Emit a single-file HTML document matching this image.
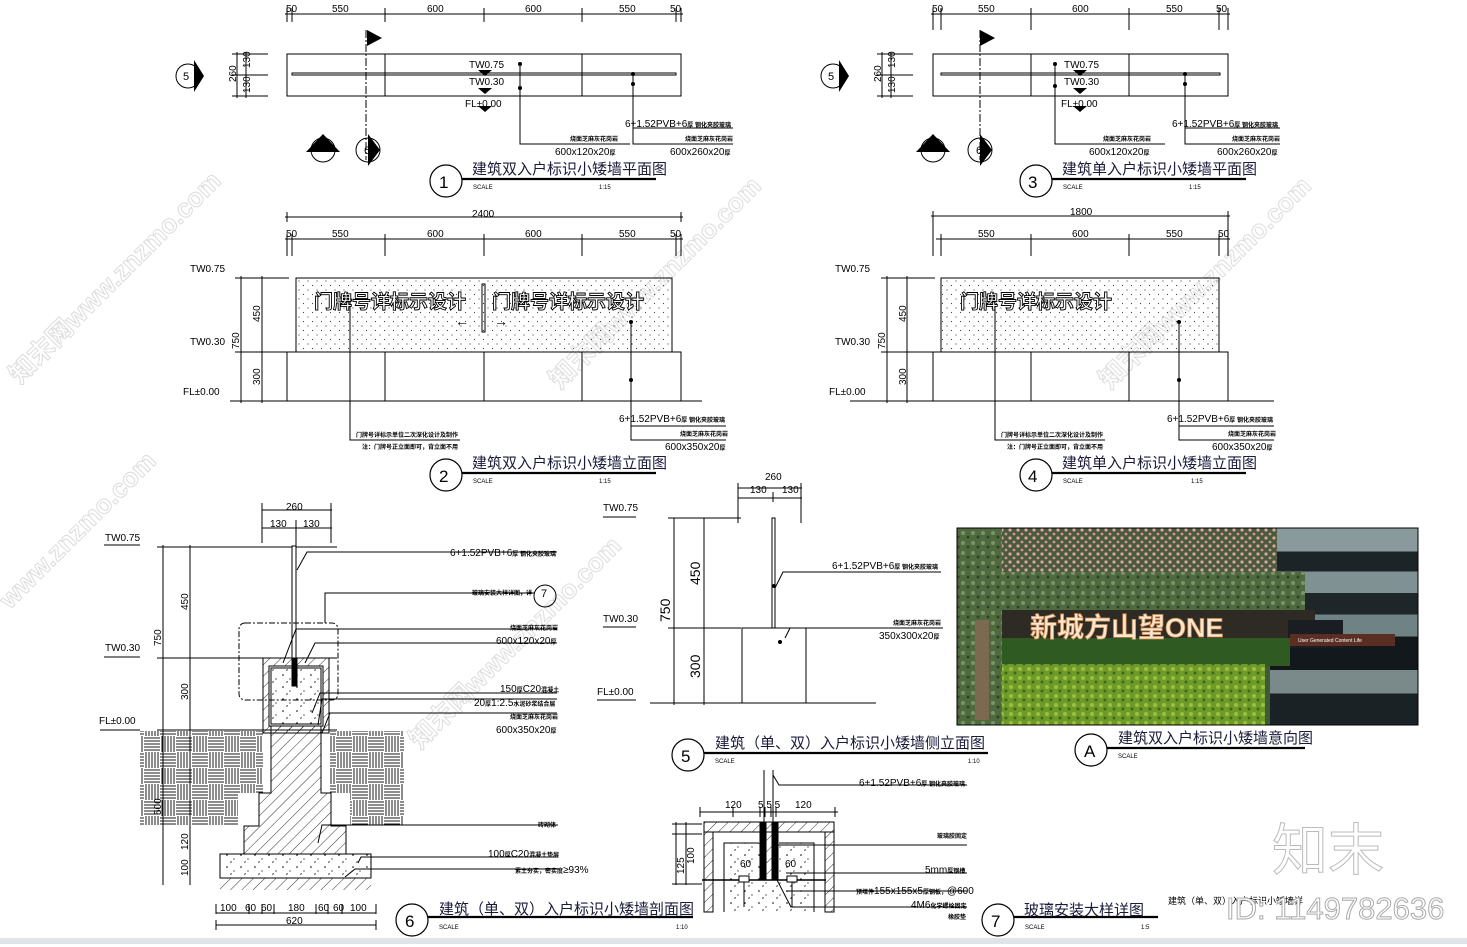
<!DOCTYPE html>
<html><head><meta charset="utf-8"><style>
html,body{margin:0;padding:0;background:#fff;}
svg{display:block;font-family:"Liberation Sans","Noto Sans CJK SC",sans-serif;}
.t{font-size:10px;fill:#000;}
.s{font-size:6px;fill:#000;font-weight:bold;}
.ti{font-size:15px;fill:#1a1a3a;}
.wm{font-size:26px;fill:none;stroke:#d8d8d8;stroke-width:1;font-weight:bold;}
</style></head><body>
<svg width="1467" height="947" viewBox="0 0 1467 947" xmlns="http://www.w3.org/2000/svg">
<defs>
<pattern id="dots" width="9" height="9" patternUnits="userSpaceOnUse"><circle cx="2" cy="2" r="0.6" fill="#444"/><circle cx="6.5" cy="6.5" r="0.6" fill="#444"/></pattern>
<pattern id="hatch" width="8" height="8" patternUnits="userSpaceOnUse" patternTransform="rotate(45)"><line x1="0" y1="0" x2="0" y2="8" stroke="#000" stroke-width="0.8"/></pattern>
<pattern id="weave" width="32" height="32" patternUnits="userSpaceOnUse">
<g stroke="#000" stroke-width="0.9">
<line x1="2" y1="0" x2="2" y2="16"/><line x1="5" y1="0" x2="5" y2="16"/><line x1="8" y1="0" x2="8" y2="16"/><line x1="11" y1="0" x2="11" y2="16"/><line x1="14" y1="0" x2="14" y2="16"/>
<line x1="16" y1="2" x2="32" y2="2"/><line x1="16" y1="5" x2="32" y2="5"/><line x1="16" y1="8" x2="32" y2="8"/><line x1="16" y1="11" x2="32" y2="11"/><line x1="16" y1="14" x2="32" y2="14"/>
<line x1="0" y1="18" x2="16" y2="18"/><line x1="0" y1="21" x2="16" y2="21"/><line x1="0" y1="24" x2="16" y2="24"/><line x1="0" y1="27" x2="16" y2="27"/><line x1="0" y1="30" x2="16" y2="30"/>
<line x1="18" y1="16" x2="18" y2="32"/><line x1="21" y1="16" x2="21" y2="32"/><line x1="24" y1="16" x2="24" y2="32"/><line x1="27" y1="16" x2="27" y2="32"/><line x1="30" y1="16" x2="30" y2="32"/>
</g></pattern>
<pattern id="conc" width="14" height="12" patternUnits="userSpaceOnUse"><circle cx="3" cy="3" r="0.8" fill="#000"/><circle cx="10" cy="7" r="0.6" fill="#000"/><path d="M6 10 l2 -1 l-1 2z" fill="#000"/></pattern>
<pattern id="leaf" width="10" height="10" patternUnits="userSpaceOnUse"><rect width="10" height="10" fill="#4f6a3e"/><circle cx="3" cy="3" r="2" fill="#7a946a"/><circle cx="8" cy="7" r="1.5" fill="#2f4426"/></pattern>
<pattern id="flow" width="8" height="8" patternUnits="userSpaceOnUse"><rect width="8" height="8" fill="#4b5a3c"/><circle cx="2" cy="2" r="1.6" fill="#d6a8a0"/><circle cx="6" cy="6" r="1.4" fill="#c79890"/></pattern>
<pattern id="bush" width="9" height="9" patternUnits="userSpaceOnUse"><rect width="9" height="9" fill="#6e9a2a"/><circle cx="3" cy="3" r="2" fill="#9cbf3c"/><circle cx="7" cy="7" r="1.5" fill="#3e6a18"/></pattern>
<linearGradient id="stripes" x1="0" y1="0" x2="0" y2="1">
<stop offset="0" stop-color="#8a9a9c"/><stop offset="0.12" stop-color="#8a9a9c"/><stop offset="0.12" stop-color="#1c2428"/><stop offset="0.22" stop-color="#1c2428"/><stop offset="0.22" stop-color="#7f9192"/><stop offset="0.33" stop-color="#7f9192"/><stop offset="0.33" stop-color="#1e262a"/><stop offset="0.44" stop-color="#1e262a"/><stop offset="0.44" stop-color="#6f8384"/><stop offset="0.55" stop-color="#6f8384"/><stop offset="0.55" stop-color="#12181c"/><stop offset="0.72" stop-color="#12181c"/><stop offset="0.72" stop-color="#7a8a8a"/><stop offset="0.84" stop-color="#7a8a8a"/><stop offset="0.84" stop-color="#1a2226"/><stop offset="1" stop-color="#1a2226"/>
</linearGradient>
</defs>

<rect x="0" y="0" width="1467" height="947" fill="#fff"/>
<line x1="0" y1="941" x2="1467" y2="941" stroke="#e0e4e8" stroke-width="6"/>

<g opacity="0.9">
<text class="wm" transform="translate(20,385) rotate(-45)">知末网www.znzmo.com</text>
<text class="wm" transform="translate(560,390) rotate(-45)">知末网www.znzmo.com</text>
<text class="wm" transform="translate(1110,390) rotate(-45)">知末网www.znzmo.com</text>
<text class="wm" transform="translate(10,610) rotate(-45)">www.znzmo.com</text>
<text class="wm" transform="translate(420,750) rotate(-45)">知末网www.znzmo.com</text>
</g>

<g stroke="#000" fill="none" stroke-width="1">
<line x1="285" y1="14" x2="683" y2="14"/>
<path d="M287 8v14M292 8v14M385 8v14M484 8v14M582 8v14M676 8v14M681 8v14"/>
<rect x="287" y="54" width="394" height="42"/>
<rect x="292" y="73" width="384" height="2"/>
<path d="M385 54v42M582 54v42"/>
<path d="M237 52v46M246 52v46M232 54h36M232 75h36M232 96h36"/>
<path d="M366 30v130" stroke-dasharray="8 2 2 2"/>
<path d="M520 64v80h110M520 88v0M633 74v70h100M633 128h100"/>
<line x1="931" y1="14" x2="1230" y2="14"/>
<path d="M933 8v22M941 8v22M1031 8v22M1129 8v22M1219 8v22M1228 8v22"/>
<rect x="933" y="54" width="295" height="42"/>
<rect x="941" y="73" width="279" height="2"/>
<path d="M1031 54v42M1129 54v42"/>
<path d="M882 52v46M891 52v46M877 54h36M877 75h36M877 96h36"/>
<path d="M980 30v130" stroke-dasharray="8 2 2 2"/>
<path d="M1055 64v80h110M1185 74v70h95M1185 128h95"/>

<line x1="285" y1="217" x2="683" y2="217"/><path d="M287 212v10M681 212v10"/>
<line x1="285" y1="239" x2="683" y2="239"/>
<path d="M287 234v22M292 234v22M385 234v22M484 234v22M582 234v22M676 234v22M681 234v22"/>
<rect x="296" y="278" width="376" height="74" fill="url(#dots)"/>
<rect x="287" y="352" width="394" height="49"/>
<path d="M385 352v49M484 352v49M582 352v49"/>
<line x1="230" y1="401" x2="702" y2="401"/>
<path d="M241 276v127M262 276v127M235 278h54M235 352h54M235 401h54"/>
<rect x="482" y="284" width="3" height="48"/>
<path d="M350 300v140h110M631 322v118h95M631 426h95"/>
<line x1="931" y1="216" x2="1230" y2="216"/><path d="M933 211v45M1228 211v45"/>
<line x1="936" y1="239" x2="1230" y2="239"/>
<path d="M941 234v22M1031 234v22M1129 234v22M1219 234v22"/>
<rect x="941" y="278" width="278" height="74" fill="url(#dots)"/>
<rect x="933" y="352" width="295" height="49"/>
<path d="M1031 352v49M1129 352v49"/>
<line x1="850" y1="401" x2="1274" y2="401"/>
<path d="M887 276v127M907 276v127M881 278h54M881 352h54M881 401h54"/>
<path d="M995 300v140h110M1179 322v118h95M1179 426h95"/>

<path d="M262 510h70M262 528h70M262 503v40M296 520v60M331 503v40"/>
<path d="M163 545v340M190 545v340M157 547h180M157 658h180M157 730h180"/>
<rect x="140" y="731" width="264" height="94" fill="url(#weave)" stroke="none"/>
<rect x="263" y="731" width="67" height="95" fill="#fff" stroke="none"/>
<rect x="238" y="793" width="112" height="33" fill="#fff" stroke="none"/>
<rect x="263" y="658" width="66" height="75" fill="url(#hatch)"/>
<rect x="269" y="666" width="54" height="60" fill="#fff"/>
<rect x="271" y="668" width="50" height="56" fill="url(#conc)"/>
<path d="M271 726h50v67h10v33h15v28H244v-28h15v-33h12z" fill="url(#hatch)"/>
<rect x="220" y="854" width="151" height="24" fill="url(#conc)"/>
<rect x="220" y="878" width="151" height="12" fill="url(#hatch)" stroke="none"/>
<rect x="292" y="546" width="4" height="138" fill="#fff"/>
<rect x="292" y="658" width="5" height="28" fill="#000"/>
<rect x="239" y="623" width="99" height="77" rx="6" stroke-dasharray="6 2 2 2"/>
<path d="M297 570l10 -18h250M325 623v-30h210M283 663l13 -34h261M305 663l10 -20h242M312 713l8 -20h237M318 725l4 -26h235M322 733l8 -20h227M333 825h225M318 843l4 -18h236M358 863l3 -6h197M345 877l10 -8h203"/>
<path d="M216 904v10M216 913h160M216 925h160M376 904v10M249 904v10M262 904v10M274 904v10M316 904v10M328 904v10M342 904v10M216 920v10M376 920v10"/>
<line x1="100" y1="730" x2="140" y2="730"/>
<line x1="104" y1="545" x2="140" y2="545"/><line x1="104" y1="657" x2="140" y2="657"/>

<path d="M738 488h64M738 498h64M738 483v40M773 492v10M801 483v40"/>
<rect x="772" y="518" width="3" height="110"/>
<rect x="742" y="628" width="64" height="75"/>
<line x1="650" y1="703" x2="876" y2="703"/>
<path d="M674 518v187M704 518v187M668 518h73M668 628h73M668 703h73"/>
<path d="M775 588l8 -16h158M785 638l5 -10h153"/>
<line x1="603" y1="517" x2="636" y2="517"/><line x1="603" y1="627" x2="636" y2="627"/><line x1="597" y1="700" x2="636" y2="700"/>

<path d="M764 770v60M773 770v60M773 775l6 10h188"/>
<path d="M700 812h138M700 807v10M733 807v10M760 807v10M765 807v10M771 807v10M776 807v10M835 807v10"/>
<path d="M704 912V822h130v90" />
<path d="M713 912V832h46M779 832h46v80" />
<rect x="704" y="822" width="130" height="10" fill="url(#hatch)"/>
<rect x="704" y="832" width="9" height="80" fill="url(#hatch)"/>
<rect x="825" y="832" width="9" height="80" fill="url(#hatch)"/>
<rect x="724" y="843" width="90" height="69" fill="url(#conc)" stroke="none"/>
<path d="M724 912v-69h35M779 843h35v69"/>
<rect x="760" y="822" width="6" height="58" fill="#000"/>
<rect x="772" y="822" width="6" height="58" fill="#000"/>
<rect x="766" y="832" width="6" height="48" fill="url(#hatch)"/>
<line x1="702" y1="880" x2="826" y2="880" stroke-width="1.5"/>
<rect x="739" y="876" width="10" height="6" fill="#fff"/><rect x="787" y="876" width="10" height="6" fill="#fff"/>
<path d="M744 882v25M792 882v25"/>
<path d="M676 822v63M686 822v63M672 824h30M672 834h30M672 884h30"/>
<path d="M776 845h191M786 873h181M786 891h181M777 880l14 27h176"/>

<g stroke-width="1.2">
<circle cx="446" cy="181" r="16"/><circle cx="1036" cy="181" r="16"/>
<circle cx="446" cy="475" r="16"/><circle cx="1036" cy="475" r="16"/>
<circle cx="688" cy="755" r="16"/><circle cx="1091" cy="750" r="16"/>
<circle cx="412" cy="920" r="16"/><circle cx="998" cy="920" r="16"/>
</g>
<g stroke-width="2.2">
<path d="M462 179h194M1052 179h194M462 473h194M1052 473h194M704 753h284M1107 748h198M428 917h265M1014 917h144"/>
</g>
<circle cx="188" cy="76" r="12"/><circle cx="833" cy="76" r="12"/>
<circle cx="323" cy="150" r="12"/><circle cx="933" cy="150" r="12"/>
<circle cx="368" cy="150" r="12"/><circle cx="980" cy="150" r="12"/>
<circle cx="545" cy="596" r="11"/>
</g>
<g fill="#000">
<path d="M367 30l15 8l-15 8z"/><path d="M980 30l15 8l-15 8z"/>
<path d="M194 60l10 16l-10 16z"/><path d="M839 60l10 16l-10 16z"/>
<path d="M306 152l17 -18l17 18z"/><path d="M916 152l17 -18l17 18z"/>
<path d="M368 134l12 16l-12 16z"/><path d="M980 134l12 16l-12 16z"/>
<path d="M478 70l7 6l7 -6zM478 88l7 6l7 -6zM478 106l7 6l7 -6z"/>
<path d="M1073 70l7 6l7 -6zM1073 88l7 6l7 -6zM1073 106l7 6l7 -6z"/>
<circle cx="520" cy="64" r="2"/><circle cx="520" cy="88" r="2"/><circle cx="633" cy="74" r="2"/><circle cx="633" cy="84" r="2"/>
<circle cx="1055" cy="64" r="2"/><circle cx="1055" cy="86" r="2"/><circle cx="1185" cy="74" r="2"/><circle cx="1185" cy="84" r="2"/>
<circle cx="350" cy="300" r="2"/><circle cx="631" cy="322" r="2"/><circle cx="631" cy="380" r="2"/>
<circle cx="995" cy="300" r="2"/><circle cx="1179" cy="322" r="2"/><circle cx="1179" cy="380" r="2"/>
<circle cx="774" cy="586" r="2"/><circle cx="780" cy="642" r="2"/>
</g>

<!-- photo -->
<g>
<rect x="957" y="528" width="461" height="197" fill="#3f5a36"/>
<rect x="1270" y="528" width="148" height="197" fill="url(#stripes)"/>
<rect x="957" y="528" width="320" height="50" fill="url(#flow)"/>
<rect x="1000" y="572" width="305" height="40" fill="url(#leaf)"/>
<rect x="985" y="610" width="330" height="28" fill="#2e2a24"/>
<rect x="1288" y="620" width="55" height="28" fill="#1a1e22"/>
<rect x="1290" y="634" width="105" height="12" fill="#5a2e22"/>
<rect x="990" y="638" width="300" height="28" fill="#2f5a22"/>
<rect x="1000" y="664" width="265" height="61" fill="url(#bush)"/>
<rect x="957" y="528" width="45" height="197" fill="url(#leaf)"/>
<rect x="975" y="620" width="14" height="100" fill="#7a6a50"/>
<text x="1030" y="637" font-size="27" fill="#fbe8d0" stroke="#d08850" stroke-width="0.8" font-weight="bold">新城方山望ONE</text>
<text x="1298" y="642" font-size="5" fill="#fff">User Generated Content Life</text>
<rect x="957" y="528" width="461" height="197" fill="none" stroke="#000"/>
</g>

<g class="t">
<text x="286" y="12">50</text><text x="332" y="12">550</text><text x="427" y="12">600</text><text x="525" y="12">600</text><text x="619" y="12">550</text><text x="670" y="12">50</text>
<text x="932" y="12">50</text><text x="978" y="12">550</text><text x="1072" y="12">600</text><text x="1166" y="12">550</text><text x="1216" y="12">50</text>
<text x="469" y="68">TW0.75</text><text x="469" y="85">TW0.30</text><text x="465" y="107">FL±0.00</text>
<text x="1064" y="68">TW0.75</text><text x="1064" y="85">TW0.30</text><text x="1061" y="107">FL±0.00</text>
<text x="625" y="127">6+1.52PVB+6<tspan class="s">厚 钢化夹胶玻璃</tspan></text>
<text x="555" y="155">600x120x20<tspan class="s">厚</tspan></text><text x="670" y="155">600x260x20<tspan class="s">厚</tspan></text>
<text x="1172" y="127">6+1.52PVB+6<tspan class="s">厚 钢化夹胶玻璃</tspan></text>
<text x="1089" y="155">600x120x20<tspan class="s">厚</tspan></text><text x="1217" y="155">600x260x20<tspan class="s">厚</tspan></text>
<text x="472" y="217">2400</text>
<text x="286" y="237">50</text><text x="332" y="237">550</text><text x="427" y="237">600</text><text x="525" y="237">600</text><text x="619" y="237">550</text><text x="670" y="237">50</text>
<text x="1070" y="215">1800</text>
<text x="978" y="237">550</text><text x="1072" y="237">600</text><text x="1166" y="237">550</text><text x="1218" y="237">50</text>
<text x="190" y="272">TW0.75</text><text x="190" y="345">TW0.30</text><text x="183" y="395">FL±0.00</text>
<text x="835" y="272">TW0.75</text><text x="835" y="345">TW0.30</text><text x="829" y="395">FL±0.00</text>
<text x="619" y="422">6+1.52PVB+6<tspan class="s">厚 钢化夹胶玻璃</tspan></text><text x="665" y="450">600x350x20<tspan class="s">厚</tspan></text>
<text x="1167" y="422">6+1.52PVB+6<tspan class="s">厚 钢化夹胶玻璃</tspan></text><text x="1212" y="450">600x350x20<tspan class="s">厚</tspan></text>
<text x="286" y="510">260</text><text x="270" y="527">130</text><text x="303" y="527">130</text>
<text x="105" y="541">TW0.75</text><text x="105" y="651">TW0.30</text><text x="99" y="724">FL±0.00</text>
<text x="450" y="556">6+1.52PVB+6<tspan class="s">厚 钢化夹胶玻璃</tspan></text>
<text x="496" y="644">600x120x20<tspan class="s">厚</tspan></text>
<text x="500" y="692">150<tspan class="s">厚</tspan>C20<tspan class="s">混凝土</tspan></text>
<text x="474" y="706">20<tspan class="s">厚</tspan>1:2.5<tspan class="s">水泥砂浆结合层</tspan></text>
<text x="496" y="733">600x350x20<tspan class="s">厚</tspan></text>
<text x="488" y="857">100<tspan class="s">厚</tspan>C20<tspan class="s">混凝土垫层</tspan></text>
<text x="515" y="873"><tspan class="s">素土夯实，密实度</tspan>≥93%</text>
<text x="220" y="911">100</text><text x="245" y="911">60</text><text x="261" y="911">60</text><text x="288" y="911">180</text><text x="318" y="911">60</text><text x="333" y="911">60</text><text x="350" y="911">100</text>
<text x="286" y="924">620</text>
<text x="765" y="480">260</text><text x="750" y="493">130</text><text x="782" y="493">130</text>
<text x="603" y="511">TW0.75</text><text x="603" y="622">TW0.30</text><text x="597" y="695">FL±0.00</text>
<text x="832" y="569">6+1.52PVB+6<tspan class="s">厚 钢化夹胶玻璃</tspan></text>
<text x="879" y="639">350x300x20<tspan class="s">厚</tspan></text>
<text x="859" y="786">6+1.52PVB+6<tspan class="s">厚 钢化夹胶玻璃</tspan></text>
<text x="725" y="808">120</text><text x="758" y="808">5 5 5</text><text x="795" y="808">120</text>
<text x="740" y="867">60</text><text x="785" y="867">60</text>
<text x="925" y="873">5mm<tspan class="s">厚钢槽</tspan></text>
<text x="856" y="894"><tspan class="s">预埋件</tspan>155x155x5<tspan class="s">厚钢板，</tspan>@600</text>
<text x="911" y="908">4M6<tspan class="s">化学螺栓固定</tspan></text>
</g>
<g class="t">
<text transform="translate(236,82) rotate(-90)">260</text><text transform="translate(250,68) rotate(-90)">130</text><text transform="translate(250,93) rotate(-90)">130</text>
<text transform="translate(881,82) rotate(-90)">260</text><text transform="translate(895,68) rotate(-90)">130</text><text transform="translate(895,93) rotate(-90)">130</text>
<text transform="translate(239,349) rotate(-90)">750</text><text transform="translate(260,322) rotate(-90)">450</text><text transform="translate(260,385) rotate(-90)">300</text>
<text transform="translate(885,349) rotate(-90)">750</text><text transform="translate(906,322) rotate(-90)">450</text><text transform="translate(906,385) rotate(-90)">300</text>
<text transform="translate(161,646) rotate(-90)">750</text><text transform="translate(188,610) rotate(-90)">450</text><text transform="translate(188,700) rotate(-90)">300</text>
<text transform="translate(161,815) rotate(-90)">500</text><text transform="translate(188,850) rotate(-90)">120</text><text transform="translate(188,876) rotate(-90)">100</text>
<text transform="translate(684,874) rotate(-90)">125</text><text transform="translate(694,864) rotate(-90)">100</text>
</g>
<g style="font-size:14px">
<text transform="translate(670,622) rotate(-90)">750</text><text transform="translate(700,585) rotate(-90)">450</text><text transform="translate(700,678) rotate(-90)">300</text>
</g>
<g class="s">
<text x="570" y="141">烧面芝麻灰花岗岩</text><text x="685" y="141">烧面芝麻灰花岗岩</text>
<text x="1103" y="141">烧面芝麻灰花岗岩</text><text x="1232" y="141">烧面芝麻灰花岗岩</text>
<text x="356" y="437">门牌号详标示单位二次深化设计及制作</text><text x="362" y="449">注：门牌号正立面即可，背立面不用</text>
<text x="1001" y="437">门牌号详标示单位二次深化设计及制作</text><text x="1007" y="449">注：门牌号正立面即可，背立面不用</text>
<text x="680" y="436">烧面芝麻灰花岗岩</text><text x="1228" y="436">烧面芝麻灰花岗岩</text>
<text x="472" y="595">玻璃安装大样详图，详</text>
<text x="510" y="630">烧面芝麻灰花岗岩</text><text x="510" y="719">烧面芝麻灰花岗岩</text>
<text x="538" y="827">砖砌体</text>
<text x="893" y="625">烧面芝麻灰花岗岩</text>
<text x="937" y="838">玻璃胶固定</text><text x="948" y="919">橡胶垫</text>
</g>
<g style="font-size:6px">
<text x="473" y="189">SCALE</text><text x="599" y="189">1:15</text>
<text x="1063" y="189">SCALE</text><text x="1189" y="189">1:15</text>
<text x="473" y="483">SCALE</text><text x="599" y="483">1:15</text>
<text x="1063" y="483">SCALE</text><text x="1191" y="483">1:15</text>
<text x="715" y="763">SCALE</text><text x="968" y="763">1:10</text>
<text x="1118" y="758">SCALE</text>
<text x="439" y="929">SCALE</text><text x="676" y="929">1:10</text>
<text x="1025" y="929">SCALE</text><text x="1141" y="929">1:5</text>
</g>
<g style="font-size:17px">
<text x="439" y="188">1</text><text x="1028" y="188">3</text><text x="439" y="482">2</text><text x="1028" y="482">4</text>
<text x="681" y="762">5</text><text x="1084" y="757">A</text><text x="405" y="927">6</text><text x="991" y="927">7</text>
</g>
<g style="font-size:11px">
<text x="183" y="80">5</text><text x="828" y="80">5</text><text x="319" y="151">2</text><text x="929" y="151">4</text>
<text x="364" y="154">6</text><text x="976" y="154">6</text><text x="541" y="597">7</text>
</g>
<g class="ti">
<text x="472" y="174">建筑双入户标识小矮墙平面图</text>
<text x="1062" y="174">建筑单入户标识小矮墙平面图</text>
<text x="472" y="468">建筑双入户标识小矮墙立面图</text>
<text x="1062" y="468">建筑单入户标识小矮墙立面图</text>
<text x="715" y="748">建筑（单、双）入户标识小矮墙侧立面图</text>
<text x="1118" y="743">建筑双入户标识小矮墙意向图</text>
<text x="439" y="914">建筑（单、双）入户标识小矮墙剖面图</text>
<text x="1024" y="915">玻璃安装大样详图</text>
</g>
<g style="font-size:19px;fill:#fff;stroke:#000;stroke-width:0.9;font-weight:bold">
<text x="314" y="308">门牌号详标示设计</text><text x="492" y="308">门牌号详标示设计</text>
<text x="960" y="308">门牌号详标示设计</text>
</g>
<text x="455" y="326" style="font-size:14px">←</text><text x="494" y="326" style="font-size:14px">→</text>
<text x="1168" y="904" style="font-size:9px">建筑（单、双）入户标识小矮墙详</text>
<text x="1272" y="870" style="font-size:56px;fill:#fff;stroke:#bbb;stroke-width:1">知末</text>
<text x="1226" y="919" style="font-size:31px;fill:#fff;stroke:#aaa;stroke-width:1">ID: 1149782636</text>
</svg>
</body></html>
